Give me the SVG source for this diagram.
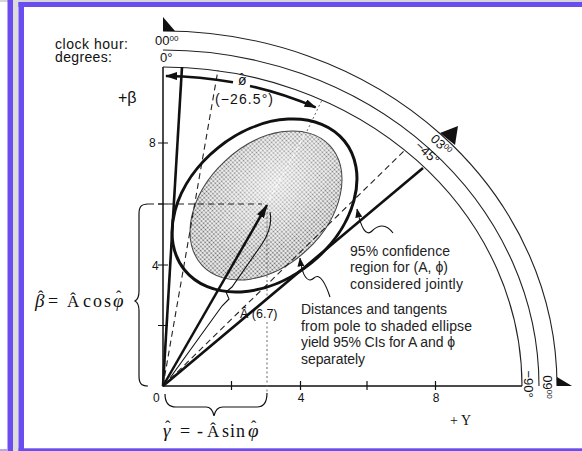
<svg xmlns="http://www.w3.org/2000/svg" width="582" height="451" viewBox="0 0 582 451">
<style>
.ln{fill:none;stroke:#111;stroke-linecap:butt}
.arc{fill:none;stroke:#222;stroke-width:1.1}
.thk{fill:none;stroke:#111;stroke-width:2.6}
.dash{fill:none;stroke:#222;stroke-width:1.1;stroke-dasharray:6 4}
.dot{fill:none;stroke:#666;stroke-width:1;stroke-dasharray:2 2.5}
.sans{font-family:"Liberation Sans",Arial,sans-serif;fill:#111}
.serif{font-family:"Liberation Serif","Times New Roman",serif;fill:#111}
.note{font-family:"Liberation Sans","DejaVu Sans",sans-serif;font-size:14px;fill:#222}
.purple{fill:#6a4cf0}
</style>
<defs>
<pattern id="dots" width="3" height="3" patternUnits="userSpaceOnUse"><rect width="3" height="3" fill="#f4f4f4"/><circle cx="1.5" cy="1.5" r="0.95" fill="#666"/></pattern>
<radialGradient id="hl" cx="0.62" cy="0.42" r="0.5"><stop offset="0" stop-color="#fff" stop-opacity="0.6"/><stop offset="1" stop-color="#fff" stop-opacity="0"/></radialGradient>
<marker id="ah" viewBox="0 0 12 8" refX="11" refY="4" markerWidth="12" markerHeight="8" markerUnits="userSpaceOnUse" orient="auto-start-reverse"><path d="M0,0 L12,4 L0,8 z" fill="#111"/></marker>
<marker id="ahA" viewBox="0 0 14 8" refX="13" refY="4" markerWidth="14" markerHeight="8" markerUnits="userSpaceOnUse" orient="auto"><path d="M0,0 L14,4 L0,8 z" fill="#111"/></marker>
<marker id="ahS" viewBox="0 0 9 7" refX="8.5" refY="3.5" markerWidth="9" markerHeight="7" markerUnits="userSpaceOnUse" orient="auto"><path d="M0,0 L9,3.5 L0,7 z" fill="#111"/></marker>
</defs>
<rect width="582" height="451" fill="#fff"/>
<g id="frame">
<rect x="0" y="0" width="582" height="2" fill="#d6d6d6"/>
<rect x="7.5" y="0" width="5.5" height="451" class="purple"/>
<rect x="13" y="0" width="5.5" height="451" fill="#dcdcdc"/>
<rect x="18.5" y="2" width="5.5" height="449" class="purple"/>
<rect x="18.5" y="2" width="563.5" height="5" class="purple"/>
<rect x="18.5" y="448.3" width="563.5" height="2.7" class="purple"/>
<rect x="0" y="449" width="7.5" height="2" fill="#b4a8f0"/>
</g>
<g id="clock-scale">
<path class="arc" d="M163,31 A394,355 0 0 1 557,386"/>
<path class="arc" d="M163,50 A376,336 0 0 1 539,386"/>
<path class="arc" d="M163,67 A359,319 0 0 1 522,386"/>
<path d="M163,31 L163,17 L175,31 z" fill="#111"/>
<path d="M440,133 L458,126 L455,145 z" fill="#111"/>
<path d="M557,377 L557,386 L572,386 z" fill="#111"/>
<text class="sans" x="55" y="49" font-size="14" textLength="73" lengthAdjust="spacing">clock hour:</text>
<text class="sans" x="55" y="62" font-size="14" textLength="57" lengthAdjust="spacing">degrees:</text>
<text class="sans" x="155" y="45" font-size="13">00<tspan font-size="8" dy="-4">00</tspan></text>
<text class="sans" x="160" y="62" font-size="13">0°</text>
<text class="sans" font-size="13" text-anchor="middle" transform="translate(441,145) rotate(43)" y="4">03<tspan font-size="8" dy="-4">00</tspan></text>
<text class="sans" font-size="13" text-anchor="middle" transform="translate(427,153) rotate(43)" y="4">−45°</text>
<text class="sans" font-size="13" text-anchor="middle" transform="translate(528,384) rotate(90)" y="4">−90°</text>
<text class="sans" font-size="13" text-anchor="middle" transform="translate(547,387) rotate(90)" y="4">09<tspan font-size="8" dy="-4">00</tspan></text>
</g>
<g id="axes">
<path class="ln" stroke-width="1.5" d="M163,67 L163,386 L522,386"/>
<path class="ln" stroke-width="1.2" d="M158,143 H168 M158,204 H168 M158,265 H168 M158,325.5 H168 M231.5,381 V390 M300.5,381 V390 M367,381 V390 M435.5,381 V390"/>
<text class="sans" x="149" y="147" font-size="12">8</text>
<text class="sans" x="152" y="270" font-size="12">4</text>
<text class="sans" x="153" y="402" font-size="12">0</text>
<text class="sans" x="301" y="402" font-size="12" text-anchor="middle">4</text>
<text class="sans" x="436" y="402" font-size="12" text-anchor="middle">8</text>
<text class="sans" x="118" y="103" font-size="16">+β</text>
<text class="serif" x="450" y="425" font-size="14">+ Υ</text>
</g>
<g id="shaded-ellipse">
<ellipse cx="266" cy="205.5" rx="87.6" ry="60.5" transform="rotate(-43.4 266 205.5)" fill="url(#dots)"/>
<ellipse cx="266" cy="205.5" rx="87.6" ry="60.5" transform="rotate(-43.4 266 205.5)" fill="url(#hl)" stroke="#444" stroke-width="1"/>
</g>
<g id="connectors">
<path class="dash" d="M148,204 H262"/>
<path class="dot" d="M267,208 V300 M267,322 V393"/>
<path fill="none" stroke="#fff" stroke-width="1" stroke-dasharray="4 3" d="M269,200 L305,134"/>
<path class="dot" stroke="#333" d="M307,131 L322,100"/>
<path class="thk" d="M163,386 L182,67"/>
<path class="thk" d="M163,386 L423,168"/>
<path class="dash" d="M163,386 L218,70"/>
<path class="dash" d="M163,386 L405,150"/>
<path class="ln" stroke-width="1.1" d="M270,212 C272,222 270,232 262,244 L232,287 L226,292 L229,299 L222,306 L170,378"/>
<path class="ln" stroke-width="2.5" d="M163,386 L267,205" marker-end="url(#ahA)"/>
<path class="thk" d="M166,76 A348,310 0 0 1 233,82.3" marker-start="url(#ah)"/>
<path class="thk" d="M250,86 A348,310 0 0 1 315.6,107.4" marker-end="url(#ah)"/>
<path class="ln" stroke-width="1.1" d="M393,233 C385,222 377,226 372,231 C366,237 361,228 357,209" marker-end="url(#ahS)"/>
<path class="ln" stroke-width="1.1" d="M330,297 C326,285 320,272 314,278 C308,284 302,276 300,258" marker-end="url(#ahS)"/>
<path class="ln" stroke-width="1.2" d="M148,204 C141,204 139,207 139,214 L139,291 C139,297 137,300 135,301 C137,302 139,305 139,311 L139,376 C139,383 141,386 148,386"/>
<path class="ln" stroke-width="1.2" d="M165,394 C165,402 168,407 176,407 L206,407 C211,407 213,411 214,416 C215,411 218,407 223,407 L257,407 C264,407 267,402 267,393"/>
</g>
<g id="confidence-region">
<ellipse cx="264.5" cy="205.5" rx="102.7" ry="74.1" transform="rotate(-38.9 264.5 205.5)" fill="none" stroke="#111" stroke-width="3"/>
</g>
<g id="phi-label">
<text class="sans" x="238" y="85" font-size="14">ø</text>
<text class="sans" x="239.5" y="83" font-size="13">ˆ</text>
<text class="sans" x="215" y="104" font-size="14" textLength="58" lengthAdjust="spacing">(−26.5°)</text>
</g>
<g id="amplitude-label">
<text class="sans" x="240" y="318" font-size="12.5">Â (6.7)</text>
</g>
<g id="beta-formula">
<text class="serif" x="35" y="307" font-size="19" font-style="italic">β</text>
<text class="serif" x="38" y="302" font-size="16">ˆ</text>
<text class="serif" x="48" y="307" font-size="18">=</text>
<text class="serif" x="67" y="307" font-size="17">Â</text>
<text class="serif" x="83" y="307" font-size="18" textLength="28" lengthAdjust="spacing">cos</text>
<text class="serif" x="113" y="307" font-size="19" font-style="italic">φ</text>
<text class="serif" x="116" y="302" font-size="16">ˆ</text>
</g>
<g id="gamma-formula">
<text class="serif" x="163" y="437" font-size="19" font-style="italic">γ</text>
<text class="serif" x="165" y="432" font-size="16">ˆ</text>
<text class="serif" x="180" y="437" font-size="18">=</text>
<text class="serif" x="197" y="437" font-size="18">-</text>
<text class="serif" x="207" y="437" font-size="17">Â</text>
<text class="serif" x="222" y="437" font-size="18" textLength="23" lengthAdjust="spacing">sin</text>
<text class="serif" x="248" y="437" font-size="19" font-style="italic">φ</text>
<text class="serif" x="251" y="432" font-size="16">ˆ</text>
</g>
<g id="note-joint">
<text class="note" x="350" y="256" textLength="100" lengthAdjust="spacing">95% confidence</text>
<text class="note" x="350" y="272" textLength="98" lengthAdjust="spacing">region for (A, ϕ)</text>
<text class="note" x="350" y="289" textLength="113" lengthAdjust="spacing">considered jointly</text>
</g>
<g id="note-separate">
<text class="note" x="301" y="314" textLength="146" lengthAdjust="spacing">Distances and tangents</text>
<text class="note" x="301" y="331" textLength="171" lengthAdjust="spacing">from pole to shaded ellipse</text>
<text class="note" x="301" y="347" textLength="154" lengthAdjust="spacing">yield 95% CIs for A and ϕ</text>
<text class="note" x="301" y="364" textLength="64" lengthAdjust="spacing">separately</text>
</g>
</svg>
